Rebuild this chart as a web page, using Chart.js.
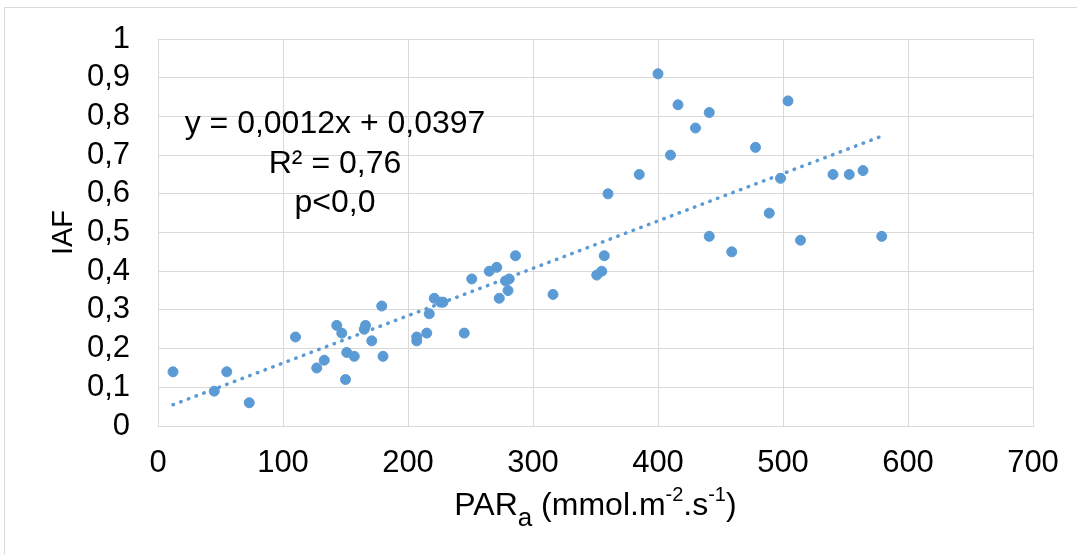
<!DOCTYPE html>
<html>
<head>
<meta charset="utf-8">
<script src="https://cdn.jsdelivr.net/npm/chart.js@4"></script>
<style>
  html, body { margin: 0; padding: 0; background: #fff; }
  #wrap { width: 1077px; height: 554px; position: relative; }
</style>
</head>
<body>
<div id="wrap"><canvas id="chart"></canvas></div>
<script>
// PARa values (x) and matching IAF values (y)
const parA = [12, 45, 55, 73, 110, 127, 133, 143, 147, 150, 151, 157, 165, 166, 171, 179, 180,
  207, 207, 215, 217, 221, 226, 228, 245, 251, 265, 271, 273, 280, 278, 281, 286, 316,
  351, 355, 357, 360, 385, 400, 410, 416, 430, 441, 441, 459, 478, 489, 498, 504, 514,
  540, 553, 564, 579];
const iaf = [0.14, 0.09, 0.14, 0.06, 0.23, 0.15, 0.17, 0.26, 0.24, 0.12, 0.19, 0.18, 0.25, 0.26, 0.22, 0.31, 0.18,
  0.23, 0.22, 0.24, 0.29, 0.33, 0.32, 0.32, 0.24, 0.38, 0.40, 0.41, 0.33, 0.35, 0.375, 0.38, 0.44, 0.34,
  0.39, 0.40, 0.44, 0.60, 0.65, 0.91, 0.70, 0.83, 0.77, 0.81, 0.49, 0.45, 0.72, 0.55, 0.64, 0.84, 0.48,
  0.65, 0.65, 0.66, 0.49];

// linear trendline end points
const trendX = [12, 579];
const trendY = [0.055, 0.749];

const xTicks = [0, 100, 200, 300, 400, 500, 600, 700];
const yTicks = [0, 0.1, 0.2, 0.3, 0.4, 0.5, 0.6, 0.7, 0.8, 0.9, 1];
const yTickLabels = ["0", "0,1", "0,2", "0,3", "0,4", "0,5", "0,6", "0,7", "0,8", "0,9", "1"];

const eqLines = ["y = 0,0012x + 0,0397", "R² = 0,76", "p<0,0"];
const yTitle = "IAF";
// [text, 0 = normal, 1 = subscript, 2 = superscript]
const xTitleParts = [["PAR", 0], ["a", 1], [" (mmol.m", 0], ["-2", 2], [".s", 0], ["-1", 2], [")", 0]];

const FONT = "'Liberation Sans', Arial, sans-serif";
const BLUE = "#5b9bd5";
const GRID = "#d9d9d9";

const points = parA.map((x, i) => ({ x, y: iaf[i] }));
const trend = trendX.map((x, i) => ({ x, y: trendY[i] }));

const decor = {
  id: "decor",
  beforeDraw(chart) {
    const ctx = chart.ctx;
    ctx.save();
    ctx.fillStyle = "#fff";
    ctx.fillRect(0, 0, chart.width, chart.height);
    ctx.strokeStyle = GRID;
    ctx.lineWidth = 1;
    ctx.strokeRect(4.5, 7.5, chart.width + 20, chart.height + 20);
    ctx.restore();
  },
  afterDraw(chart) {
    const ctx = chart.ctx;
    const area = chart.chartArea;
    ctx.save();
    ctx.fillStyle = "#000";

    // regression text
    ctx.font = `32px ${FONT}`;
    ctx.textAlign = "center";
    ctx.textBaseline = "alphabetic";
    const bases = [133, 173, 212];
    eqLines.forEach((t, i) => ctx.fillText(t, 335, bases[i]));

    // y title
    ctx.save();
    ctx.translate(64, (area.top + area.bottom) / 2);
    ctx.rotate(-Math.PI / 2);
    ctx.font = `29px ${FONT}`;
    ctx.textBaseline = "middle";
    ctx.fillText(yTitle, 0, 0);
    ctx.restore();

    // x title with sub/superscripts
    const fonts = [`32px ${FONT}`, `26px ${FONT}`, `20px ${FONT}`];
    let w = 0;
    xTitleParts.forEach(([t, k]) => { ctx.font = fonts[k]; w += ctx.measureText(t).width; });
    let x = (area.left + area.right) / 2 - w / 2;
    const base = 515;
    ctx.textAlign = "left";
    xTitleParts.forEach(([t, k]) => {
      ctx.font = fonts[k];
      const dy = k === 1 ? 11 : k === 2 ? -14 : 0;
      ctx.fillText(t, x, base + dy);
      x += ctx.measureText(t).width;
    });
    ctx.restore();
  }
};

new Chart(document.getElementById("chart"), {
  type: "scatter",
  data: {
    datasets: [
      {
        data: points,
        backgroundColor: BLUE,
        borderColor: BLUE,
        pointRadius: 5,
        pointHoverRadius: 5,
        order: 0,
      },
      {
        type: "line",
        data: trend,
        borderColor: BLUE,
        borderWidth: 3.5,
        borderDash: [0.5, 7.7],
        borderCapStyle: "round",
        pointRadius: 0,
        fill: false,
        order: 1,
      },
    ],
  },
  options: {
    responsive: true,
    maintainAspectRatio: false,
    animation: false,
    devicePixelRatio: 1,
    layout: { padding: { top: 39, right: 44, left: 0, bottom: 0 } },
    plugins: { legend: { display: false }, tooltip: { enabled: false } },
    scales: {
      x: {
        type: "linear",
        min: 0,
        max: 700,
        afterFit: (s) => { s.height = 128; s.paddingLeft = 0; s.paddingRight = 0; },
        afterBuildTicks: (s) => { s.ticks = xTicks.map((v) => ({ value: v })); },
        grid: { color: GRID, lineWidth: 1, drawTicks: false },
        border: { color: GRID },
        ticks: {
          color: "#000",
          font: { family: FONT, size: 31 },
          padding: 19,
          maxRotation: 0,
          autoSkip: false,
          callback: (v) => String(v),
        },
      },
      y: {
        type: "linear",
        min: 0,
        max: 1,
        afterFit: (s) => { s.width = 158; s.paddingTop = 0; s.paddingBottom = 0; },
        afterBuildTicks: (s) => { s.ticks = yTicks.map((v) => ({ value: v })); },
        grid: { color: GRID, lineWidth: 1, drawTicks: false },
        border: { color: GRID },
        ticks: {
          color: "#000",
          font: { family: FONT, size: 31, lineHeight: 1 },
          padding: 28,
          autoSkip: false,
          callback: (v) => yTickLabels[yTicks.findIndex((t) => Math.abs(t - v) < 1e-6)],
        },
      },
    },
  },
  plugins: [decor],
});
</script>
</body>
</html>
